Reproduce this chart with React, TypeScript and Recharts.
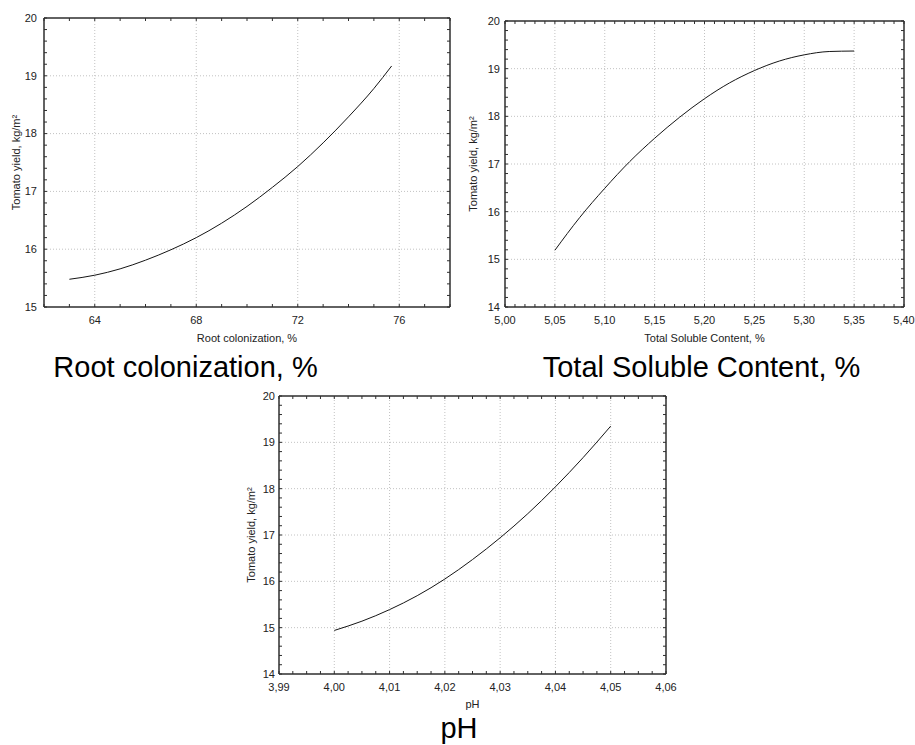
import React from 'react';
import { LineChart, Line, XAxis, YAxis, ReferenceLine } from 'recharts';

const rootColonization = [63, 64, 65, 66, 67, 68, 69, 70, 71, 72, 73, 74, 75, 75.7];
const rootYield = [15.48, 15.55, 15.66, 15.81, 15.99, 16.2, 16.45, 16.74, 17.07, 17.43, 17.84, 18.29, 18.78, 19.17];

const solubleContent = [5.05, 5.075, 5.1, 5.125, 5.15, 5.175, 5.2, 5.225, 5.25, 5.275, 5.3, 5.325, 5.35];
const solubleYield = [15.19, 15.88, 16.49, 17.05, 17.54, 17.98, 18.37, 18.7, 18.96, 19.16, 19.29, 19.36, 19.37];

const phValues = [4.0, 4.005, 4.01, 4.015, 4.02, 4.025, 4.03, 4.035, 4.04, 4.045, 4.05];
const phYield = [14.94, 15.14, 15.39, 15.69, 16.05, 16.47, 16.94, 17.46, 18.04, 18.67, 19.35];

const rootTicks = [64, 68, 72, 76];
const yieldTicksFrom15 = [15, 16, 17, 18, 19, 20];
const solubleTicks = [5.0, 5.05, 5.1, 5.15, 5.2, 5.25, 5.3, 5.35, 5.4];
const yieldTicksFrom14 = [14, 15, 16, 17, 18, 19, 20];
const phTicks = [3.99, 4.0, 4.01, 4.02, 4.03, 4.04, 4.05, 4.06];

const yieldLabel = 'Tomato yield, kg/m²';

const INK = '#222';
const FRAME = '#2e2e2e';
const GRID = '#c2c2c2';
const FONT = 'Arial, "Liberation Sans", sans-serif';

const withMinor = (min: number, max: number, step: number) => {
  const n = Math.round((max - min) / step);
  return Array.from({ length: n + 1 }, (_, i) => +(min + i * step).toFixed(5));
};

const isMajor = (v: number, majors: number[]) => majors.some((m) => Math.abs(m - v) < 1e-6);

const intFmt = (v: number) => String(Math.round(v));
const commaFmt = (v: number) => v.toFixed(2).replace('.', ',');

const makeXTick = (majors: number[], fmt: (v: number) => string, side: 'top' | 'bottom') => (props: any) => {
  const { x, y, payload } = props;
  const v = payload.value;
  const dir = side === 'bottom' ? -1 : 1;
  return (
    <g>
      <line x1={x} x2={x} y1={y} y2={y + dir * 3} stroke={FRAME} />
      {side === 'bottom' && isMajor(v, majors) && (
        <text x={x} y={y + 13} dy="0.35em" textAnchor="middle" fontSize={11} fill={INK} fontFamily={FONT}>
          {fmt(v)}
        </text>
      )}
    </g>
  );
};

const makeYTick = (majors: number[], side: 'left' | 'right', gap: number) => (props: any) => {
  const { x, y, payload } = props;
  const v = payload.value;
  const dir = side === 'left' ? 1 : -1;
  return (
    <g>
      <line x1={x} x2={x + dir * 3} y1={y} y2={y} stroke={FRAME} />
      {side === 'left' && isMajor(v, majors) && (
        <text x={x - gap} y={y} dy="0.35em" textAnchor="end" fontSize={11} fill={INK} fontFamily={FONT}>
          {intFmt(v)}
        </text>
      )}
    </g>
  );
};

interface PanelProps {
  left: number;
  top: number;
  width: number;
  height: number;
  marginTop: number;
  marginRight: number;
  yAxisWidth: number;
  xAxisHeight: number;
  xs: number[];
  ys: number[];
  xDomain: [number, number];
  xMajors: number[];
  xStep: number;
  xFmt: (v: number) => string;
  yDomain: [number, number];
  yMajors: number[];
  xTitle: string;
  xTitleOffset: number;
  yTitleOffset: number;
  yGap: number;
}

const Panel: React.FC<PanelProps> = (p) => {
  const data = p.xs.map((x, i) => ({ x, y: p.ys[i] }));
  const xAll = withMinor(p.xDomain[0], p.xDomain[1], p.xStep);
  const yAll = withMinor(p.yDomain[0], p.yDomain[1], 0.2);
  const xGrid = p.xMajors.filter((v) => v > p.xDomain[0] && v < p.xDomain[1]);
  const yGrid = p.yMajors.filter((v) => v > p.yDomain[0] && v < p.yDomain[1]);
  const axisLine = { stroke: FRAME, strokeWidth: 1.5 };

  return (
    <div style={{ position: 'absolute', left: p.left, top: p.top }}>
      <LineChart
        width={p.width}
        height={p.height}
        data={data}
        margin={{ top: p.marginTop - 1, right: p.marginRight - 1, bottom: 0, left: 0 }}
      >
        {xGrid.map((v) => (
          <ReferenceLine key={'gx' + v} x={v} stroke={GRID} strokeDasharray="1 2" />
        ))}
        {yGrid.map((v) => (
          <ReferenceLine key={'gy' + v} y={v} stroke={GRID} strokeDasharray="1 2" />
        ))}
        <XAxis
          dataKey="x"
          type="number"
          domain={p.xDomain}
          ticks={xAll}
          interval={0}
          allowDataOverflow
          height={p.xAxisHeight}
          tickSize={0}
          tickMargin={0}
          tickLine={false}
          axisLine={axisLine}
          tick={makeXTick(p.xMajors, p.xFmt, 'bottom')}
          label={{ value: p.xTitle, position: 'insideBottom', offset: p.xTitleOffset, fontSize: 11, fill: INK, fontFamily: FONT }}
        />
        <XAxis
          xAxisId="top"
          orientation="top"
          dataKey="x"
          type="number"
          domain={p.xDomain}
          ticks={xAll}
          interval={0}
          allowDataOverflow
          height={1}
          tickSize={0}
          tickMargin={0}
          tickLine={false}
          axisLine={axisLine}
          tick={makeXTick(p.xMajors, p.xFmt, 'top')}
        />
        <YAxis
          type="number"
          domain={p.yDomain}
          ticks={yAll}
          interval={0}
          allowDataOverflow
          width={p.yAxisWidth}
          tickSize={0}
          tickMargin={0}
          tickLine={false}
          axisLine={axisLine}
          tick={makeYTick(p.yMajors, 'left', p.yGap)}
          label={{
            value: yieldLabel,
            angle: -90,
            position: 'insideLeft',
            offset: p.yTitleOffset,
            fontSize: 11,
            fill: INK,
            fontFamily: FONT,
            style: { textAnchor: 'middle' },
          }}
        />
        <YAxis
          yAxisId="right"
          orientation="right"
          type="number"
          domain={p.yDomain}
          ticks={yAll}
          interval={0}
          allowDataOverflow
          width={1}
          tickSize={0}
          tickMargin={0}
          tickLine={false}
          axisLine={axisLine}
          tick={makeYTick(p.yMajors, 'right', p.yGap)}
        />
        {/* invisible twin so the top and right frame axes are bound to a series */}
        <Line
          xAxisId="top"
          yAxisId="right"
          dataKey="y"
          stroke="none"
          dot={false}
          activeDot={false}
          legendType="none"
          isAnimationActive={false}
        />
        <Line
          type="monotone"
          dataKey="y"
          stroke="#151515"
          strokeWidth={1}
          dot={false}
          activeDot={false}
          isAnimationActive={false}
        />
      </LineChart>
    </div>
  );
};

const captionStyle = (centerX: number, top: number): React.CSSProperties => ({
  position: 'absolute',
  left: centerX - 250,
  width: 500,
  top,
  textAlign: 'center',
  fontFamily: FONT,
  fontSize: 29,
  lineHeight: 1,
  color: '#000',
  whiteSpace: 'nowrap',
});

export default function App() {
  return (
    <div
      style={{
        position: 'absolute',
        left: 0,
        top: 0,
        width: 915,
        height: 745,
        background: '#fff',
        overflow: 'hidden',
        fontFamily: FONT,
      }}
    >
      <Panel
        left={0}
        top={0}
        width={460}
        height={350}
        marginTop={18}
        marginRight={10}
        yAxisWidth={44}
        xAxisHeight={43}
        xs={rootColonization}
        ys={rootYield}
        xDomain={[62, 78]}
        xMajors={rootTicks}
        xStep={1}
        xFmt={intFmt}
        yDomain={[15, 20]}
        yMajors={yieldTicksFrom15}
        xTitle="Root colonization, %"
        xTitleOffset={8}
        yTitleOffset={16}
        yGap={7}
      />
      <Panel
        left={455}
        top={0}
        width={460}
        height={350}
        marginTop={21}
        marginRight={11}
        yAxisWidth={50}
        xAxisHeight={43}
        xs={solubleContent}
        ys={solubleYield}
        xDomain={[5.0, 5.4]}
        xMajors={solubleTicks}
        xStep={0.01}
        xFmt={commaFmt}
        yDomain={[14, 20]}
        yMajors={yieldTicksFrom14}
        xTitle="Total Soluble Content, %"
        xTitleOffset={8}
        yTitleOffset={18}
        yGap={5}
      />
      <Panel
        left={229}
        top={380}
        width={470}
        height={340}
        marginTop={16}
        marginRight={33}
        yAxisWidth={50}
        xAxisHeight={46}
        xs={phValues}
        ys={phYield}
        xDomain={[3.99, 4.06]}
        xMajors={phTicks}
        xStep={0.0025}
        xFmt={commaFmt}
        yDomain={[14, 20]}
        yMajors={yieldTicksFrom14}
        xTitle="pH"
        xTitleOffset={12}
        yTitleOffset={22}
        yGap={4}
      />
      <div style={captionStyle(185.5, 353)}>Root colonization, %</div>
      <div style={captionStyle(701.5, 353)}>Total Soluble Content, %</div>
      <div style={captionStyle(459, 714)}>pH</div>
    </div>
  );
}
